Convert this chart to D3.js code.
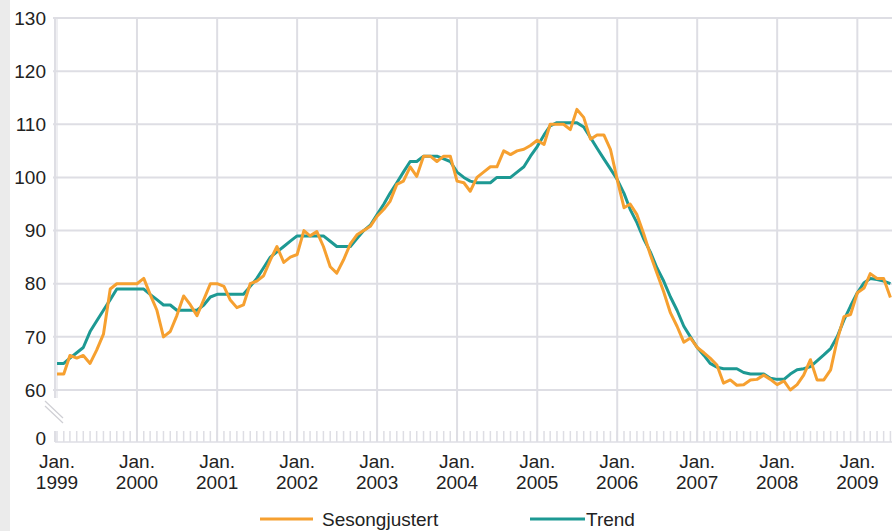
<!DOCTYPE html>
<html>
<head>
<meta charset="utf-8">
<title>Sesongjustert og trend</title>
<script src="https://cdn.jsdelivr.net/npm/d3@7"></script>
<style>
    body { margin: 0; background: #fff; }
    text { font-family: "Liberation Sans", Arial, sans-serif; fill: #222; }
</style>
</head>
<body>
<script>
    // monthly values, Jan 1999 - Jun 2009
    var sesongjustert = [
        63, 63, 66.5, 66, 66.5, 65, 67.5, 70.5, 79, 80, 80, 80,
        80, 81, 78, 75, 70, 71, 74, 77.7, 76, 74, 77, 80,
        80, 79.5, 77, 75.5, 76, 80, 80.5, 81.5, 84.5, 87, 84, 85,
        85.5, 90, 89, 89.8, 87, 83.2, 82, 84.5, 87.5, 89.2, 90, 90.8,
        92.7, 94, 95.5, 98.7, 99.3, 102, 100.2, 104, 104, 103, 104, 104,
        99.3, 99, 97.4, 100, 101, 102, 102, 105, 104.3, 105, 105.3, 106,
        107, 106.2, 110, 110, 110, 109, 112.8, 111.3, 107.2, 108, 108, 105.3,
        99.6, 94.3, 95, 93, 89.5, 85.5, 82, 78.5, 74.5, 72, 69, 69.8,
        68, 67, 66, 64.7, 61.3, 61.9, 60.9, 61, 61.9, 62, 62.8, 62,
        61, 61.7, 60, 61, 62.8, 65.7, 61.9, 61.9, 63.8, 69.4, 73.8, 74.2,
        78.3, 79.2, 81.9, 81, 81, 77.4
    ];
    var trend = [
        65, 65, 66, 67, 68, 71, 73, 75, 77, 79, 79, 79,
        79, 79, 78, 77, 76, 76, 75, 75, 75, 75, 76, 77.5,
        78, 78, 78, 78, 78, 79.5, 81, 83, 85, 86, 87, 88,
        89, 89, 89, 89, 89, 88, 87, 87, 87, 88.5, 90, 91,
        93, 95, 97, 99, 101, 103, 103, 104, 104, 104, 103.5, 103,
        101, 100, 99.3, 99, 99, 99, 100, 100, 100, 101, 102, 104,
        105.8, 108, 109.7, 110.3, 110.3, 110.3, 110.3, 109.5, 107.5, 105.5, 103.5, 101.6,
        99.6, 97, 94, 91.5, 88.5, 86, 83, 80.5, 77.5, 75, 72, 70,
        68, 66.5, 65, 64.3, 64, 64, 64, 63.3, 63, 63, 63, 62.2,
        62, 62, 63, 63.8, 64, 64.4, 65.5, 66.6, 67.8, 70, 73.2, 75.8,
        78.3, 80.2, 81, 80.8, 80.5, 80
    ];
    var yTicks = [60, 70, 80, 90, 100, 110, 120, 130];
    var yearLabels = [1999, 2000, 2001, 2002, 2003, 2004, 2005, 2006, 2007, 2008, 2009];
    var seriesNames = ["Sesongjustert", "Trend"];
    var colors = ["#f6a030", "#1d9993"];

    var W = 892, H = 531,
        plotLeft = 57, plotTop = 18, y60 = 390, zeroY = 441,
        fontSize = 19;

    var months = d3.timeMonth.range(new Date(1999, 0, 1), new Date(2009, 6, 1));

    var x = d3.scaleTime()
        .domain([new Date(1999, 0, 1), new Date(2009, 6, 1)])
        .range([plotLeft, plotLeft + 126 * 80 / 12]);
    var y = d3.scaleLinear().domain([60, 130]).range([y60, plotTop]);

    var svg = d3.select("body").append("svg")
        .attr("width", W)
        .attr("height", H);

    // grey strip at the left edge
    svg.append("rect").attr("x", 0).attr("y", 0).attr("width", 10).attr("height", H).attr("fill", "#ebebeb");

    var grid = "#dedee4";

    // horizontal grid
    svg.append("g").selectAll("line").data(yTicks).join("line")
        .attr("x1", plotLeft - 4).attr("x2", W)
        .attr("y1", function (d) { return y(d); })
        .attr("y2", function (d) { return y(d); })
        .attr("stroke", grid).attr("stroke-width", 2);

    // vertical grid at each January
    var jans = yearLabels.map(function (yr) { return new Date(yr, 0, 1); });
    svg.append("g").selectAll("line").data(jans.slice(1)).join("line")
        .attr("x1", function (d) { return x(d); })
        .attr("x2", function (d) { return x(d); })
        .attr("y1", plotTop).attr("y2", zeroY + 1)
        .attr("stroke", grid).attr("stroke-width", 2);

    // left axis (broken)
    svg.append("line").attr("x1", plotLeft - 2).attr("x2", plotLeft - 2).attr("y1", plotTop).attr("y2", 398)
        .attr("stroke", grid).attr("stroke-width", 2);
    svg.append("line").attr("x1", plotLeft).attr("x2", plotLeft).attr("y1", plotTop).attr("y2", 398)
        .attr("stroke", grid).attr("stroke-width", 1);
    svg.append("line").attr("x1", plotLeft - 2).attr("x2", plotLeft - 2).attr("y1", 431).attr("y2", zeroY + 1)
        .attr("stroke", grid).attr("stroke-width", 2);

    // break marks
    [0, 5].forEach(function (o) {
        svg.append("line")
            .attr("x1", 45).attr("y1", 401 + o).attr("x2", 63).attr("y2", 418 + o)
            .attr("stroke", "#cfcfd4").attr("stroke-width", 1.2);
    });

    // monthly ticks along zero line
    svg.append("g").selectAll("line").data(months).join("line")
        .attr("x1", function (d) { return x(d); })
        .attr("x2", function (d) { return x(d); })
        .attr("y1", 431).attr("y2", zeroY + 1)
        .attr("stroke", grid).attr("stroke-width", 1.5);
    svg.append("line").attr("x1", plotLeft - 2).attr("x2", W).attr("y1", zeroY + 1).attr("y2", zeroY + 1)
        .attr("stroke", grid).attr("stroke-width", 1.5);

    // y labels
    svg.append("g").selectAll("text").data(yTicks).join("text")
        .attr("x", 46)
        .attr("y", function (d) { return y(d); })
        .attr("dy", "0.35em")
        .attr("text-anchor", "end")
        .attr("font-size", fontSize)
        .text(function (d) { return d; });
    svg.append("text").attr("x", 46).attr("y", 438).attr("dy", "0.35em")
        .attr("text-anchor", "end").attr("font-size", fontSize).text("0");

    // x labels
    var xl = svg.append("g").selectAll("text").data(jans).join("text")
        .attr("x", function (d) { return x(d); })
        .attr("y", 468)
        .attr("text-anchor", "middle")
        .attr("font-size", fontSize);
    xl.append("tspan").attr("x", function (d) { return x(d); }).text("Jan.");
    xl.append("tspan").attr("x", function (d) { return x(d); }).attr("dy", 21)
        .text(function (d) { return d.getFullYear(); });

    // lines
    var line = d3.line()
        .x(function (d, i) { return x(months[i]); })
        .y(function (d) { return y(d); });

    [trend, sesongjustert].forEach(function (s, k) {
        svg.append("path")
            .datum(s)
            .attr("fill", "none")
            .attr("stroke", colors[1 - k])
            .attr("stroke-width", 3)
            .attr("stroke-linejoin", "round")
            .attr("d", line);
    });

    // legend
    var legend = [
        { name: seriesNames[0], color: colors[0], x1: 260, x2: 313, tx: 322 },
        { name: seriesNames[1], color: colors[1], x1: 530, x2: 585, tx: 586 }
    ];
    legend.forEach(function (l) {
        svg.append("line").attr("x1", l.x1).attr("x2", l.x2).attr("y1", 519).attr("y2", 519)
            .attr("stroke", l.color).attr("stroke-width", 3);
        svg.append("text").attr("x", l.tx).attr("y", 519).attr("dy", "0.35em")
            .attr("font-size", fontSize).text(l.name);
    });
</script>
</body>
</html>
